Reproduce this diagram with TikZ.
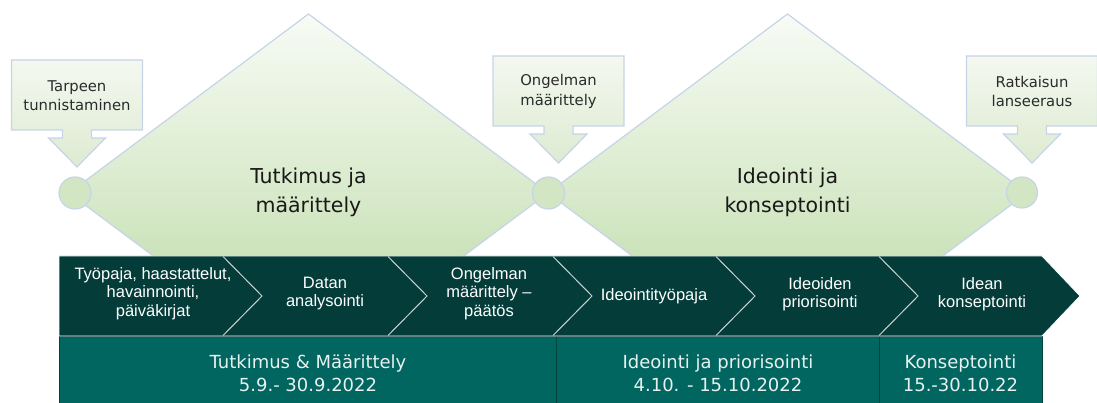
\documentclass[tikz,border=0pt]{standalone}
\usepackage{fontspec}
\setmainfont{DejaVu Sans}
\newfontfamily\barfont{Liberation Sans}
\usetikzlibrary{calc}

\definecolor{leafTop}{HTML}{F8FBF5}
\definecolor{leafMid}{HTML}{D8EACB}
\definecolor{leafBot}{HTML}{B4D59B}
\definecolor{edgeBlue}{HTML}{C6D4EA}
\definecolor{dotFill}{HTML}{D3E6C3}
\definecolor{noteTop}{HTML}{F4F8F0}
\definecolor{noteBot}{HTML}{DDEBD1}
\definecolor{noteTxt}{HTML}{2B2B2B}
\definecolor{bandCol}{HTML}{033C39}
\definecolor{phaseCol}{HTML}{00665F}
\definecolor{phaseEdge}{HTML}{02433F}
\definecolor{phaseTxt}{HTML}{E8F1F0}
\definecolor{sepLine}{HTML}{C9D3D2}

\tikzset{
  leaf/.style={draw=edgeBlue, line width=1.2pt, top color=leafTop, bottom color=leafBot, middle color=leafMid},
  dot/.style={circle, draw=edgeBlue, line width=1.2pt, fill=dotFill, inner sep=0pt, minimum size=32pt},
  bigtext/.style={align=center, text=black!90, font=\fontsize{20.5}{29}\selectfont},
  notebox/.style={draw=edgeBlue, line width=1.2pt, top color=noteTop, bottom color=noteBot},
  notetext/.style={align=center, text=noteTxt, font=\fontsize{14.8}{19.5}\selectfont},
  note/.pic={
    \path[notebox] (-65.5,0) -- (65.5,0) -- (65.5,70) -- (14.5,70) -- (14.5,78)
      -- (28.5,78) -- (0,107) -- (-28.5,78) -- (-14.5,78) -- (-14.5,70)
      -- (-65.5,70) -- cycle;
    \node[notetext] (-txt) at (0,35.5) {#1};
  },
  bandfill/.style={fill=bandCol, draw=white, line width=0.8pt},
  sepstroke/.style={draw=sepLine, line width=1pt},
  steptext/.style={align=center, text=white, font=\barfont\fontsize{16.5}{18.5}\selectfont},
  phasebox/.style={fill=phaseCol, draw=phaseEdge, line width=1pt},
  phasetext/.style={align=center, text=phaseTxt, font=\fontsize{18}{23}\selectfont}
}

\begin{document}
\begin{tikzpicture}[x=1pt, y=-1pt]
\useasboundingbox (0,0) rectangle (1097,403);

% two large phase diamonds
\coordinate (d1W) at (69,193);   \coordinate (d1N) at (308.5,14);
\coordinate (d1E) at (548,193);  \coordinate (d1S) at (308.5,372);
\coordinate (d2W) at (548,193);  \coordinate (d2N) at (787.5,14);
\coordinate (d2E) at (1027,193); \coordinate (d2S) at (787.5,372);
\path[leaf] (d1W) -- (d1N) -- (d1E) -- (d1S) -- cycle;
\path[leaf] (d2W) -- (d2N) -- (d2E) -- (d2S) -- cycle;

\node[bigtext] (t1) at (308.5,192.5) {Tutkimus ja\\määrittely};
\node[bigtext] (t2) at (787.5,192.5) {Ideointi ja\\konseptointi};

% milestone dots
\node[dot] (p1) at (75,193) {};
\node[dot] (p2) at (548.5,193) {};
\node[dot, minimum size=31pt] (p3) at (1022,192.5) {};

% milestone callouts
\pic (c1) at (77,60) {note={Tarpeen\\tunnistaminen}};
\pic (c2) at (558.5,56) {note={Ongelman\\määrittely}};
\pic (c3) at (1032,56) {note={Ratkaisun\\lanseeraus}};

% phase boxes
\path[phasebox] (59,336) rectangle (556,404);
\path[phasebox] (556,336) rectangle (879,404);
\path[phasebox] (879,336) rectangle (1042,404);
\node[phasetext] (b1) at (308,373) {Tutkimus \& Määrittely\\5.9.- 30.9.2022};
\node[phasetext] (b2) at (718,373) {Ideointi ja priorisointi\\4.10. - 15.10.2022};
\node[phasetext] (b3) at (960.5,373) {Konseptointi\\15.-30.10.22};

% chevron band
\path[bandfill] (59,256) -- (1042,256) -- (1080,296) -- (1042,336) -- (59,336) -- cycle;
\foreach \sx in {223,388,553,716,879}{
  \draw[sepstroke] (\sx,256.5) -- (\sx+39,296) -- (\sx,335.5);
}

\node[steptext] (s1) at (153,293.5) {Työpaja, haastattelut,\\havainnointi,\\päiväkirjat};
\node[steptext] (s2) at (325,293.5) {Datan\\analysointi};
\node[steptext] (s3) at (489,293.5) {Ongelman\\määrittely –\\päätös};
\node[steptext] (s4) at (654,296) {Ideointityöpaja};
\node[steptext] (s5) at (820,294) {Ideoiden\\priorisointi};
\node[steptext] (s6) at (982,294) {Idean\\konseptointi};
\end{tikzpicture}
\end{document}
